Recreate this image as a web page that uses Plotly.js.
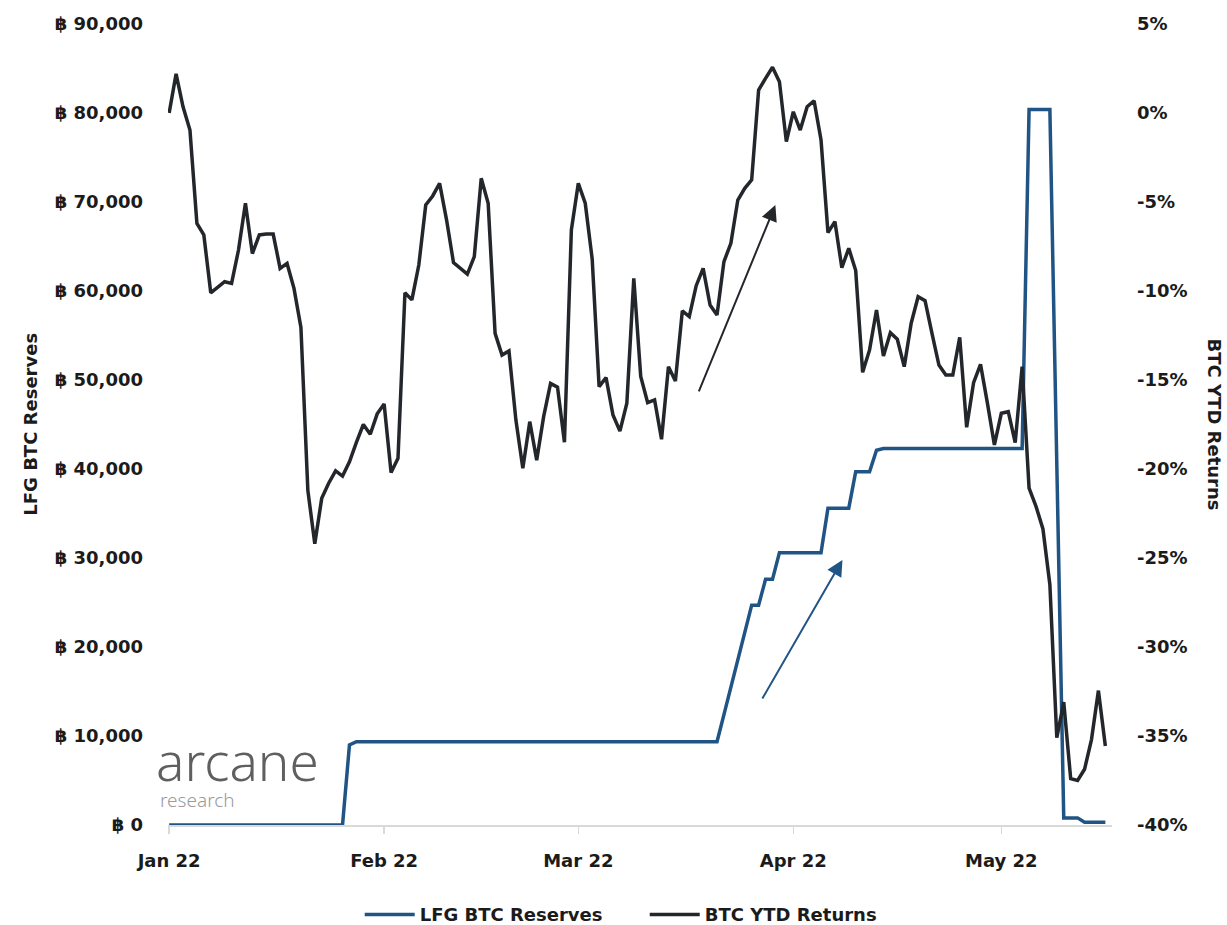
<!DOCTYPE html>
<html>
<head>
<meta charset="utf-8">
<script src="https://cdn.plot.ly/plotly-3.0.1.min.js"></script>
<style>html,body{margin:0;padding:0;background:#fff}#chart{width:1227px;height:925px}</style>
</head>
<body>
<div id="chart"></div>
<script>
// Daily series starting 2022-01-01
const startDate = '2022-01-01';
const lfgReserves = [
  0,0,0,0,0,0,0,0,0,0,
  0,0,0,0,0,0,0,0,0,0,
  0,0,0,0,0,0,9000,9360,9360,9360,
  9360,9360,9360,9360,9360,9360,9360,9360,9360,9360,
  9360,9360,9360,9360,9360,9360,9360,9360,9360,9360,
  9360,9360,9360,9360,9360,9360,9360,9360,9360,9360,
  9360,9360,9360,9360,9360,9360,9360,9360,9360,9360,
  9360,9360,9360,9360,9360,9360,9360,9360,9360,9360,
  12400,15500,18600,21600,24700,24700,27600,27600,30600,30600,
  30600,30600,30600,30600,30600,35600,35600,35600,35600,39700,
  39700,39700,42100,42300,42300,42300,42300,42300,42300,42300,
  42300,42300,42300,42300,42300,42300,42300,42300,42300,42300,
  42300,42300,42300,42300,80400,80400,80400,80400,40500,800,
  800,800,310,310,310,310
];
const btcYtd = [
  0,2.2,0.35,-0.96,-6.2,-6.85,-10.1,-9.8,-9.48,-9.57,
  -7.7,-5.07,-7.9,-6.85,-6.8,-6.8,-8.73,-8.45,-9.85,-12.05,
  -21.2,-24.2,-21.65,-20.8,-20.1,-20.4,-19.6,-18.5,-17.5,-18.05,
  -16.9,-16.35,-20.2,-19.4,-10.1,-10.5,-8.54,-5.17,-4.66,-3.95,
  -6.0,-8.4,-8.73,-9.05,-8.07,-3.67,-5.07,-12.38,-13.6,-13.37,
  -17.25,-19.96,-17.34,-19.5,-17.06,-15.19,-15.4,-18.5,-6.57,-3.95,
  -5.07,-8.2,-15.37,-14.87,-16.97,-17.87,-16.3,-9.29,-14.8,-16.27,
  -16.12,-18.33,-14.25,-15.06,-11.12,-11.44,-9.7,-8.73,-10.79,-11.35,
  -8.35,-7.32,-4.89,-4.23,-3.76,1.29,1.95,2.57,1.76,-1.61,
  0.07,-0.96,0.35,0.69,-1.52,-6.72,-6.1,-8.69,-7.6,-8.85,
  -14.57,-13.31,-11.07,-13.65,-12.34,-12.71,-14.25,-11.81,-10.32,-10.54,
  -12.38,-14.16,-14.72,-14.72,-12.6,-17.66,-15.15,-14.12,-16.31,-18.65,
  -16.87,-16.78,-18.52,-14.25,-21.08,-22.1,-23.37,-26.5,-35.1,-33.1,
  -37.4,-37.5,-36.87,-35.2,-32.45,-35.56
];
const leftTicks = [0,10000,20000,30000,40000,50000,60000,70000,80000,90000];
const leftTickText = leftTicks.map(v => '฿ ' + v.toLocaleString('en-US'));
const rightTickVals = [-40,-35,-30,-25,-20,-15,-10,-5,0,5];
const rightTickText = ['-40%','-35%','-30%','-25%','-20%','-15%','-10%','-5%','0%','5%'];

function dayStr(i){
  const d = new Date(Date.UTC(2022,0,1) + i*86400000);
  return d.toISOString().slice(0,10);
}
const dates = lfgReserves.map((_,i)=>dayStr(i));
const datesB = btcYtd.map((_,i)=>dayStr(i));

const FONT = '"DejaVu Sans", sans-serif';
const LOGOFONT = '"Noto Sans", Inter, sans-serif';
const TXT = '#1b1b1b';
const BLUE = '#1f5485';
const BLACK = '#23272c';
const TF = {family: FONT, size: 18, color: TXT, weight: 700};

const traces = [
  {x: dates, y: lfgReserves, name: 'LFG BTC Reserves', type: 'scatter', mode: 'lines',
   line: {color: BLUE, width: 3.5}, yaxis: 'y'},
  {x: datesB, y: btcYtd, name: 'BTC YTD Returns', type: 'scatter', mode: 'lines',
   line: {color: BLACK, width: 3.5}, yaxis: 'y2'}
];

const layout = {
  width: 1227, height: 925,
  margin: {l: 168, r: 115, t: 24, b: 100, autoexpand: false},
  paper_bgcolor: '#fff', plot_bgcolor: '#fff',
  font: TF,
  showlegend: true,
  legend: {orientation: 'h', x: 0.505, xanchor: 'center', y: -0.112, yanchor: 'middle',
           font: TF, itemwidth: 50, tracegroupgap: 0, entrywidth: 220},
  xaxis: {
    type: 'date',
    range: ['2021-12-31 20:00', '2022-05-16 23:00'],
    dtick: 'M1', tick0: '2022-01-01', tickformat: '%b %y',
    showgrid: false, zeroline: false,
    showline: true, linecolor: '#d9d9d9', linewidth: 1.5,
    ticks: 'outside', ticklen: 7, tickcolor: '#d9d9d9', tickwidth: 1.5,
    ticklabelstandoff: 12,
    tickfont: TF
  },
  yaxis: {
    range: [0, 90000], tickmode: 'array', tickvals: leftTicks, ticktext: leftTickText,
    showgrid: false, zeroline: false, showline: false, ticks: '',
    ticklabelstandoff: 24,
    tickfont: TF
  },
  yaxis2: {
    range: [-40, 5], overlaying: 'y', side: 'right', tickmode: 'array',
    tickvals: rightTickVals, ticktext: rightTickText,
    showgrid: false, zeroline: false, showline: false, ticks: '',
    ticklabelstandoff: 24,
    tickfont: TF
  },
  annotations: [
    {xref: 'paper', yref: 'paper', x: -0.146, y: 0.5, text: 'LFG BTC Reserves', showarrow: false,
     textangle: -90, font: TF, xanchor: 'center', yanchor: 'middle'},
    {xref: 'paper', yref: 'paper', x: 1.109, y: 0.5, text: 'BTC YTD Returns', showarrow: false,
     textangle: 90, font: TF, xanchor: 'center', yanchor: 'middle'},
    {xref: 'paper', yref: 'paper', x: -0.015, y: 0.08, xanchor: 'left', yanchor: 'middle', showarrow: false,
     text: 'arcane', font: {family: LOGOFONT, size: 53, color: '#5f5f5f', weight: 300}},
    {xref: 'paper', yref: 'paper', x: -0.011, y: 0.031, xanchor: 'left', yanchor: 'middle', showarrow: false,
     text: 'research', font: {family: LOGOFONT, size: 19, color: '#9a9a9a', weight: 300}},
    {xref: 'x', yref: 'y2', axref: 'x', ayref: 'y2',
     x: '2022-03-29 10:00', y: -5.17, ax: '2022-03-18 07:00', ay: -15.73,
     text: '', showarrow: true, arrowhead: 2, arrowsize: 1.6, arrowwidth: 2, arrowcolor: BLACK},
    {xref: 'x', yref: 'y', axref: 'x', ayref: 'y',
     x: '2022-04-08 02:00', y: 29775, ax: '2022-03-27 10:00', ay: 14045,
     text: '', showarrow: true, arrowhead: 2, arrowsize: 1.6, arrowwidth: 2, arrowcolor: BLUE}
  ]
};

Plotly.newPlot('chart', traces, layout, {displayModeBar: false, staticPlot: true});
</script>
</body>
</html>
